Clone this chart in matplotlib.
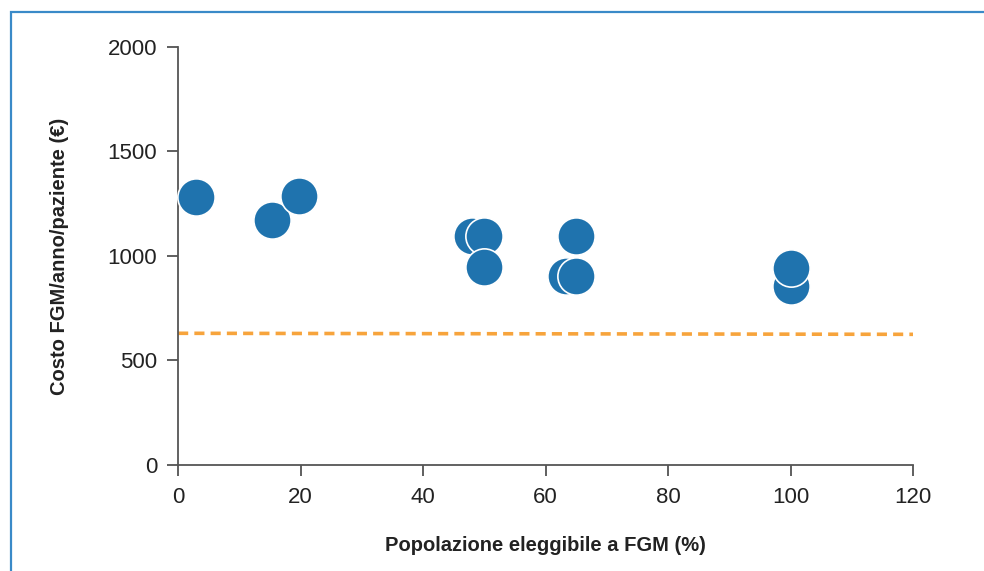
import matplotlib
matplotlib.use("Agg")
import matplotlib.pyplot as plt
from matplotlib.patches import Rectangle

# Data
pop_pct = [3, 15.3, 19.8, 48, 50, 50, 65, 63.3, 65, 100, 100]
cost_eur = [1280, 1170, 1285, 1095, 1095, 945, 1095, 905, 905, 855, 940]
threshold_x = [0, 120]
threshold_y = [630, 625]

x_ticks = [0, 20, 40, 60, 80, 100, 120]
y_ticks = [0, 500, 1000, 1500, 2000]

plt.rcParams['font.family'] = ['Liberation Sans', 'DejaVu Sans']

fig = plt.figure(figsize=(9.84, 5.71), dpi=100)
ax = fig.add_axes([0.181, 0.1856, 0.747, 0.7324])

# light blue frame around the figure (cropped at right and bottom)
fig.patches.append(Rectangle((10.5 / 984, -0.05), 1.2, (571 - 12) / 571 + 0.05,
                             transform=fig.transFigure, fill=False,
                             edgecolor='#3a8ac8', linewidth=1.6))

ax.plot(threshold_x, threshold_y, color='#f7a43c', linewidth=2.6,
        dashes=(2.8, 1.7), zorder=1)
ax.scatter(pop_pct, cost_eur, s=720, color='#1f73ae', edgecolor='white',
           linewidth=1.2, zorder=3, clip_on=False)

ax.set_xlim(0, 120)
ax.set_ylim(0, 2000)
ax.set_xticks(x_ticks)
ax.set_yticks(y_ticks)
for side in ['top', 'right']:
    ax.spines[side].set_visible(False)
for side in ['left', 'bottom']:
    ax.spines[side].set_color('#555555')
    ax.spines[side].set_linewidth(1.3)
ax.tick_params(direction='out', length=8, width=1.2, color='#444444',
               labelsize=16, labelcolor='#222222')
ax.tick_params(axis='x', pad=8)
ax.tick_params(axis='y', pad=7)

ax.set_xlabel('Popolazione eleggibile a FGM (%)', fontsize=14.5,
              fontweight='bold', color='#222222', labelpad=20)
ax.set_ylabel('Costo FGM/anno/paziente (€)', fontsize=14.5,
              fontweight='bold', color='#222222', labelpad=28)

fig.savefig('out.png', dpi=100)
